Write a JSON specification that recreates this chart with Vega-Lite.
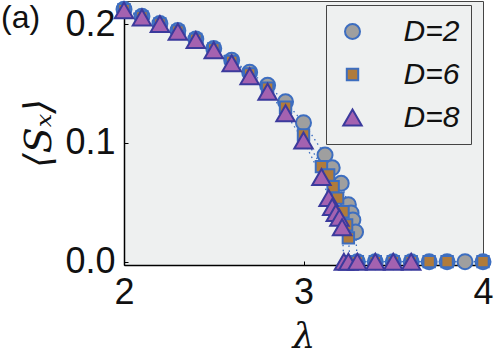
{
  "$schema": "https://vega.github.io/schema/vega-lite/v6.json",
  "width": 359,
  "height": 264,
  "autosize": "none",
  "padding": {"left": 124, "top": 1, "right": 13, "bottom": 92},
  "background": "white",
  "title": {"text": "(a)", "anchor": "start", "frame": "group", "orient": "top", "offset": 0, "baseline": "top", "dx": -123, "dy": 37, "font": "Liberation Sans", "fontSize": 32, "fontWeight": "normal", "color": "#111"},
  "config": {
    "view": {"fill": "#eef0f0", "stroke": "#444", "strokeWidth": 1},
    "axis": {"labelFont": "Liberation Sans", "labelFontSize": 36, "labelColor": "#111", "domainColor": "#000", "domainWidth": 1.5, "tickColor": "#000", "tickSize": -4, "grid": false, "titleColor": "#111", "labelOverlap": false, "labelFlush": false},
    "legend": {"orient": "none", "legendX": 202, "legendY": 4, "strokeColor": "#444", "fillColor": "#eef0f0", "padding": 11.5, "labelFont": "Liberation Sans", "labelFontSize": 30, "labelFontStyle": "italic", "labelColor": "#111", "rowPadding": 13, "labelOffset": 36, "symbolStrokeWidth": 2, "title": null}
  },
  "data": {"values": [
    {"D": "D=2", "lam": 2.0, "Sx": 0.2125}, {"D": "D=2", "lam": 2.1, "Sx": 0.2065}, {"D": "D=2", "lam": 2.2, "Sx": 0.2005}, {"D": "D=2", "lam": 2.3, "Sx": 0.1945}, {"D": "D=2", "lam": 2.4, "Sx": 0.1875}, {"D": "D=2", "lam": 2.5, "Sx": 0.1795}, {"D": "D=2", "lam": 2.6, "Sx": 0.1695}, {"D": "D=2", "lam": 2.7, "Sx": 0.1595}, {"D": "D=2", "lam": 2.8, "Sx": 0.1485}, {"D": "D=2", "lam": 2.9, "Sx": 0.1345}, {"D": "D=2", "lam": 3.0, "Sx": 0.117}, {"D": "D=2", "lam": 3.12, "Sx": 0.0898}, {"D": "D=2", "lam": 3.16, "Sx": 0.079}, {"D": "D=2", "lam": 3.21, "Sx": 0.066}, {"D": "D=2", "lam": 3.25, "Sx": 0.048}, {"D": "D=2", "lam": 3.265, "Sx": 0.041}, {"D": "D=2", "lam": 3.275, "Sx": 0.035}, {"D": "D=2", "lam": 3.29, "Sx": 0.025}, {"D": "D=2", "lam": 3.3, "Sx": 0}, {"D": "D=2", "lam": 3.4, "Sx": 0}, {"D": "D=2", "lam": 3.5, "Sx": 0}, {"D": "D=2", "lam": 3.6, "Sx": 0}, {"D": "D=2", "lam": 3.7, "Sx": 0}, {"D": "D=2", "lam": 3.8, "Sx": 0}, {"D": "D=2", "lam": 3.9, "Sx": 0}, {"D": "D=2", "lam": 4.0, "Sx": 0},
    {"D": "D=6", "lam": 2.0, "Sx": 0.212}, {"D": "D=6", "lam": 2.1, "Sx": 0.206}, {"D": "D=6", "lam": 2.2, "Sx": 0.2}, {"D": "D=6", "lam": 2.3, "Sx": 0.194}, {"D": "D=6", "lam": 2.4, "Sx": 0.187}, {"D": "D=6", "lam": 2.5, "Sx": 0.179}, {"D": "D=6", "lam": 2.6, "Sx": 0.1685}, {"D": "D=6", "lam": 2.7, "Sx": 0.158}, {"D": "D=6", "lam": 2.8, "Sx": 0.146}, {"D": "D=6", "lam": 2.9, "Sx": 0.13}, {"D": "D=6", "lam": 3.0, "Sx": 0.1066}, {"D": "D=6", "lam": 3.1, "Sx": 0.08}, {"D": "D=6", "lam": 3.14, "Sx": 0.073}, {"D": "D=6", "lam": 3.165, "Sx": 0.063}, {"D": "D=6", "lam": 3.19, "Sx": 0.0535}, {"D": "D=6", "lam": 3.22, "Sx": 0.042}, {"D": "D=6", "lam": 3.24, "Sx": 0.031}, {"D": "D=6", "lam": 3.25, "Sx": 0.02}, {"D": "D=6", "lam": 3.26, "Sx": 0}, {"D": "D=6", "lam": 3.3, "Sx": 0}, {"D": "D=6", "lam": 3.4, "Sx": 0}, {"D": "D=6", "lam": 3.5, "Sx": 0}, {"D": "D=6", "lam": 3.6, "Sx": 0}, {"D": "D=6", "lam": 3.7, "Sx": 0}, {"D": "D=6", "lam": 3.8, "Sx": 0}, {"D": "D=6", "lam": 4.0, "Sx": 0},
    {"D": "D=8", "lam": 2.0, "Sx": 0.2115}, {"D": "D=8", "lam": 2.1, "Sx": 0.2055}, {"D": "D=8", "lam": 2.2, "Sx": 0.2}, {"D": "D=8", "lam": 2.3, "Sx": 0.1935}, {"D": "D=8", "lam": 2.4, "Sx": 0.1865}, {"D": "D=8", "lam": 2.5, "Sx": 0.178}, {"D": "D=8", "lam": 2.6, "Sx": 0.167}, {"D": "D=8", "lam": 2.7, "Sx": 0.156}, {"D": "D=8", "lam": 2.8, "Sx": 0.143}, {"D": "D=8", "lam": 2.9, "Sx": 0.125}, {"D": "D=8", "lam": 3.0, "Sx": 0.102}, {"D": "D=8", "lam": 3.1, "Sx": 0.0713}, {"D": "D=8", "lam": 3.14, "Sx": 0.0536}, {"D": "D=8", "lam": 3.16, "Sx": 0.046}, {"D": "D=8", "lam": 3.18, "Sx": 0.041}, {"D": "D=8", "lam": 3.2, "Sx": 0.037}, {"D": "D=8", "lam": 3.215, "Sx": 0.029}, {"D": "D=8", "lam": 3.225, "Sx": 0}, {"D": "D=8", "lam": 3.25, "Sx": 0}, {"D": "D=8", "lam": 3.3, "Sx": 0}, {"D": "D=8", "lam": 3.4, "Sx": 0}, {"D": "D=8", "lam": 3.5, "Sx": 0}, {"D": "D=8", "lam": 3.6, "Sx": 0}
  ]},
  "encoding": {
    "x": {"field": "lam", "type": "quantitative", "scale": {"domain": [2, 4], "nice": false, "zero": false}, "axis": {"values": [2, 3, 4], "labelExpr": "format(datum.value, 'd')", "labelOverlap": false, "labelFlush": false, "labelPadding": 14, "title": "λ", "titleFont": "DejaVu Serif", "titleFontStyle": "italic", "titleFontWeight": "normal", "titleFontSize": 36, "titlePadding": 9}},
    "y": {"field": "Sx", "type": "quantitative", "scale": {"domain": [-0.0028, 0.2194], "nice": false, "zero": false}, "axis": {"values": [0, 0.1, 0.2], "labelExpr": "format(datum.value, '.1f')", "labelOverlap": false, "labelFlush": false, "labelPadding": 13, "title": "⟨Sₓ⟩", "titleFont": "DejaVu Serif", "titleFontStyle": "italic", "titleFontWeight": "normal", "titleFontSize": 38, "titlePadding": 6}}
  },
  "layer": [
    {"mark": {"type": "line", "color": "#3d6ec0", "strokeDash": [1.5, 3.5], "strokeWidth": 1.3, "clip": false}, "encoding": {"detail": {"field": "D"}}},
    {"mark": {"type": "point", "filled": true, "opacity": 1, "strokeWidth": 2, "clip": false},
     "encoding": {
       "fill": {"field": "D", "type": "nominal", "scale": {"domain": ["D=2", "D=6", "D=8"], "range": ["#9f9f9f", "#b07b3b", "#a462b0"]}},
       "shape": {"field": "D", "type": "nominal", "scale": {"domain": ["D=2", "D=6", "D=8"], "range": ["circle", "square", "triangle-up"]}},
       "stroke": {"field": "D", "type": "nominal", "scale": {"domain": ["D=2", "D=6", "D=8"], "range": ["#3d6ec0", "#3d6ec0", "#3b3a9c"]}},
       "size": {"field": "D", "type": "nominal", "scale": {"type": "ordinal", "domain": ["D=2", "D=6", "D=8"], "range": [225, 130, 340]}}
     }}
  ]
}
